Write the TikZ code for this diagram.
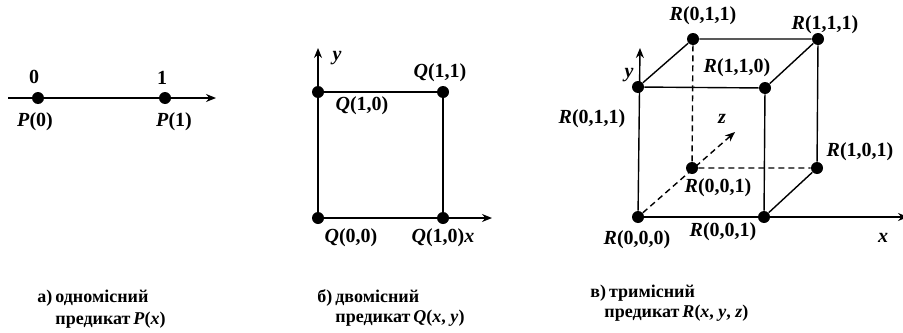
\documentclass[tikz,border=0pt]{standalone}
\usepackage{fontspec}
\setmainfont{Liberation Serif}
\usetikzlibrary{arrows.meta, positioning}

\begin{document}
\begin{tikzpicture}[
    x=0.5pt, y=-0.5pt,
    dot/.style={circle, fill=black, inner sep=0pt, minimum size=6pt},
    lbl/.style={font=\fontsize{10}{12}\selectfont\bfseries, inner sep=0pt},
    captxt/.style={font=\fontsize{9}{11}\selectfont\bfseries, inner sep=0pt, anchor=west},
    arr/.style={-{Stealth[length=5pt, width=4pt]}, line width=0.7pt},
    side/.style={line width=0.7pt},
    hid/.style={line width=0.7pt, dash pattern=on 3pt off 2pt},
]
\useasboundingbox (0,0) rectangle (903,332);

% a) one-place predicate
\coordinate (pa) at (8,98);
\coordinate (pb) at (216,98);
\node[dot] (p0) at (38,98) {};
\node[dot] (p1) at (165,98) {};
\draw[arr] (pa) -- (pb);
\node[lbl] (n0) at (34,77) {0};
\node[lbl] (n1) at (162,78) {1};
\node[lbl] (lp0) at (35,122) {\textit{P}(0)};
\node[lbl] (lp1) at (174,122) {\textit{P}(1)};

% b) two-place predicate
\node[dot] (q00) at (318,218) {};
\node[dot] (q10) at (443,218) {};
\node[dot] (q01) at (318,92) {};
\node[dot] (q11) at (443,92) {};
\coordinate (qy) at (318,48);
\coordinate (qx) at (492,218);
\draw[arr] (q00) -- (qy);
\draw[arr] (q00) -- (qx);
\draw[side] (q01) -- (q11) -- (q10);
\node[lbl] (ly) at (337,58) {\textit{y}};
\node[lbl] (lq11) at (440,73) {\textit{Q}(1,1)};
\node[lbl] (lq01) at (362,106) {\textit{Q}(1,0)};
\node[lbl] (lq00) at (351,238) {\textit{Q}(0,0)};
\node[lbl] (lq10) at (443,238) {\textit{Q}(1,0)\textit{x}};

% c) three-place predicate
\node[dot] (r000) at (638,217) {};
\node[dot] (r100) at (764,217) {};
\node[dot] (r010) at (638,87) {};
\node[dot] (r110) at (765,88) {};
\node[dot] (r011) at (693,39) {};
\node[dot] (r111) at (818,39) {};
\node[dot] (r101) at (817,168) {};
\node[dot] (r001) at (692,168) {};
\coordinate (ry) at (640,48);
\coordinate (rx) at (908,217);
\coordinate (rz) at (735,132);
% axes
\draw[arr] (r000) -- (ry);
\draw[arr] (r000) -- (rx);
\draw[arr, dash pattern=on 3pt off 2pt] (r000) -- (rz);
% visible edges
\draw[side] (r010) -- (r011) -- (r111) -- (r110) -- (r010);
\draw[side] (r110) -- (r100);
\draw[side] (r111) -- (r101) -- (r100);
% hidden edges
\draw[hid] (r011) -- (r001) -- (r101);
\node[lbl] (rly) at (629,75) {\textit{y}};
\node[lbl] (rlz) at (722,119) {\textit{z}};
\node[lbl] (rlx) at (883,238) {\textit{x}};
\node[lbl] (lr011) at (703,16) {\textit{R}(0,1,1)};
\node[lbl] (lr111) at (825,25) {\textit{R}(1,1,1)};
\node[lbl] (lr110) at (737,68) {\textit{R}(1,1,0)};
\node[lbl] (lr010) at (592,119) {\textit{R}(0,1,1)};
\node[lbl] (lr101) at (860,152) {\textit{R}(1,0,1)};
\node[lbl] (lr001) at (718,188) {\textit{R}(0,0,1)};
\node[lbl] (lr000) at (637,240) {\textit{R}(0,0,0)};
\node[lbl] (lr100) at (723,232) {\textit{R}(0,0,1)};

% captions
\node[captxt] (ca1) at (37,298) {а)\,одномісний};
\node[captxt] (ca2) at (55,320) {предикат\,\textit{P}(\textit{x})};
\node[captxt] (cb1) at (317,298) {б)\,двомісний};
\node[captxt] (cb2) at (335,318) {предикат\,\textit{Q}(\textit{x}, \textit{y})};
\node[captxt] (cc1) at (590,293) {в)\,тримісний};
\node[captxt] (cc2) at (604,313) {предикат\,\textit{R}(\textit{x}, \textit{y}, \textit{z})};

\end{tikzpicture}
\end{document}
